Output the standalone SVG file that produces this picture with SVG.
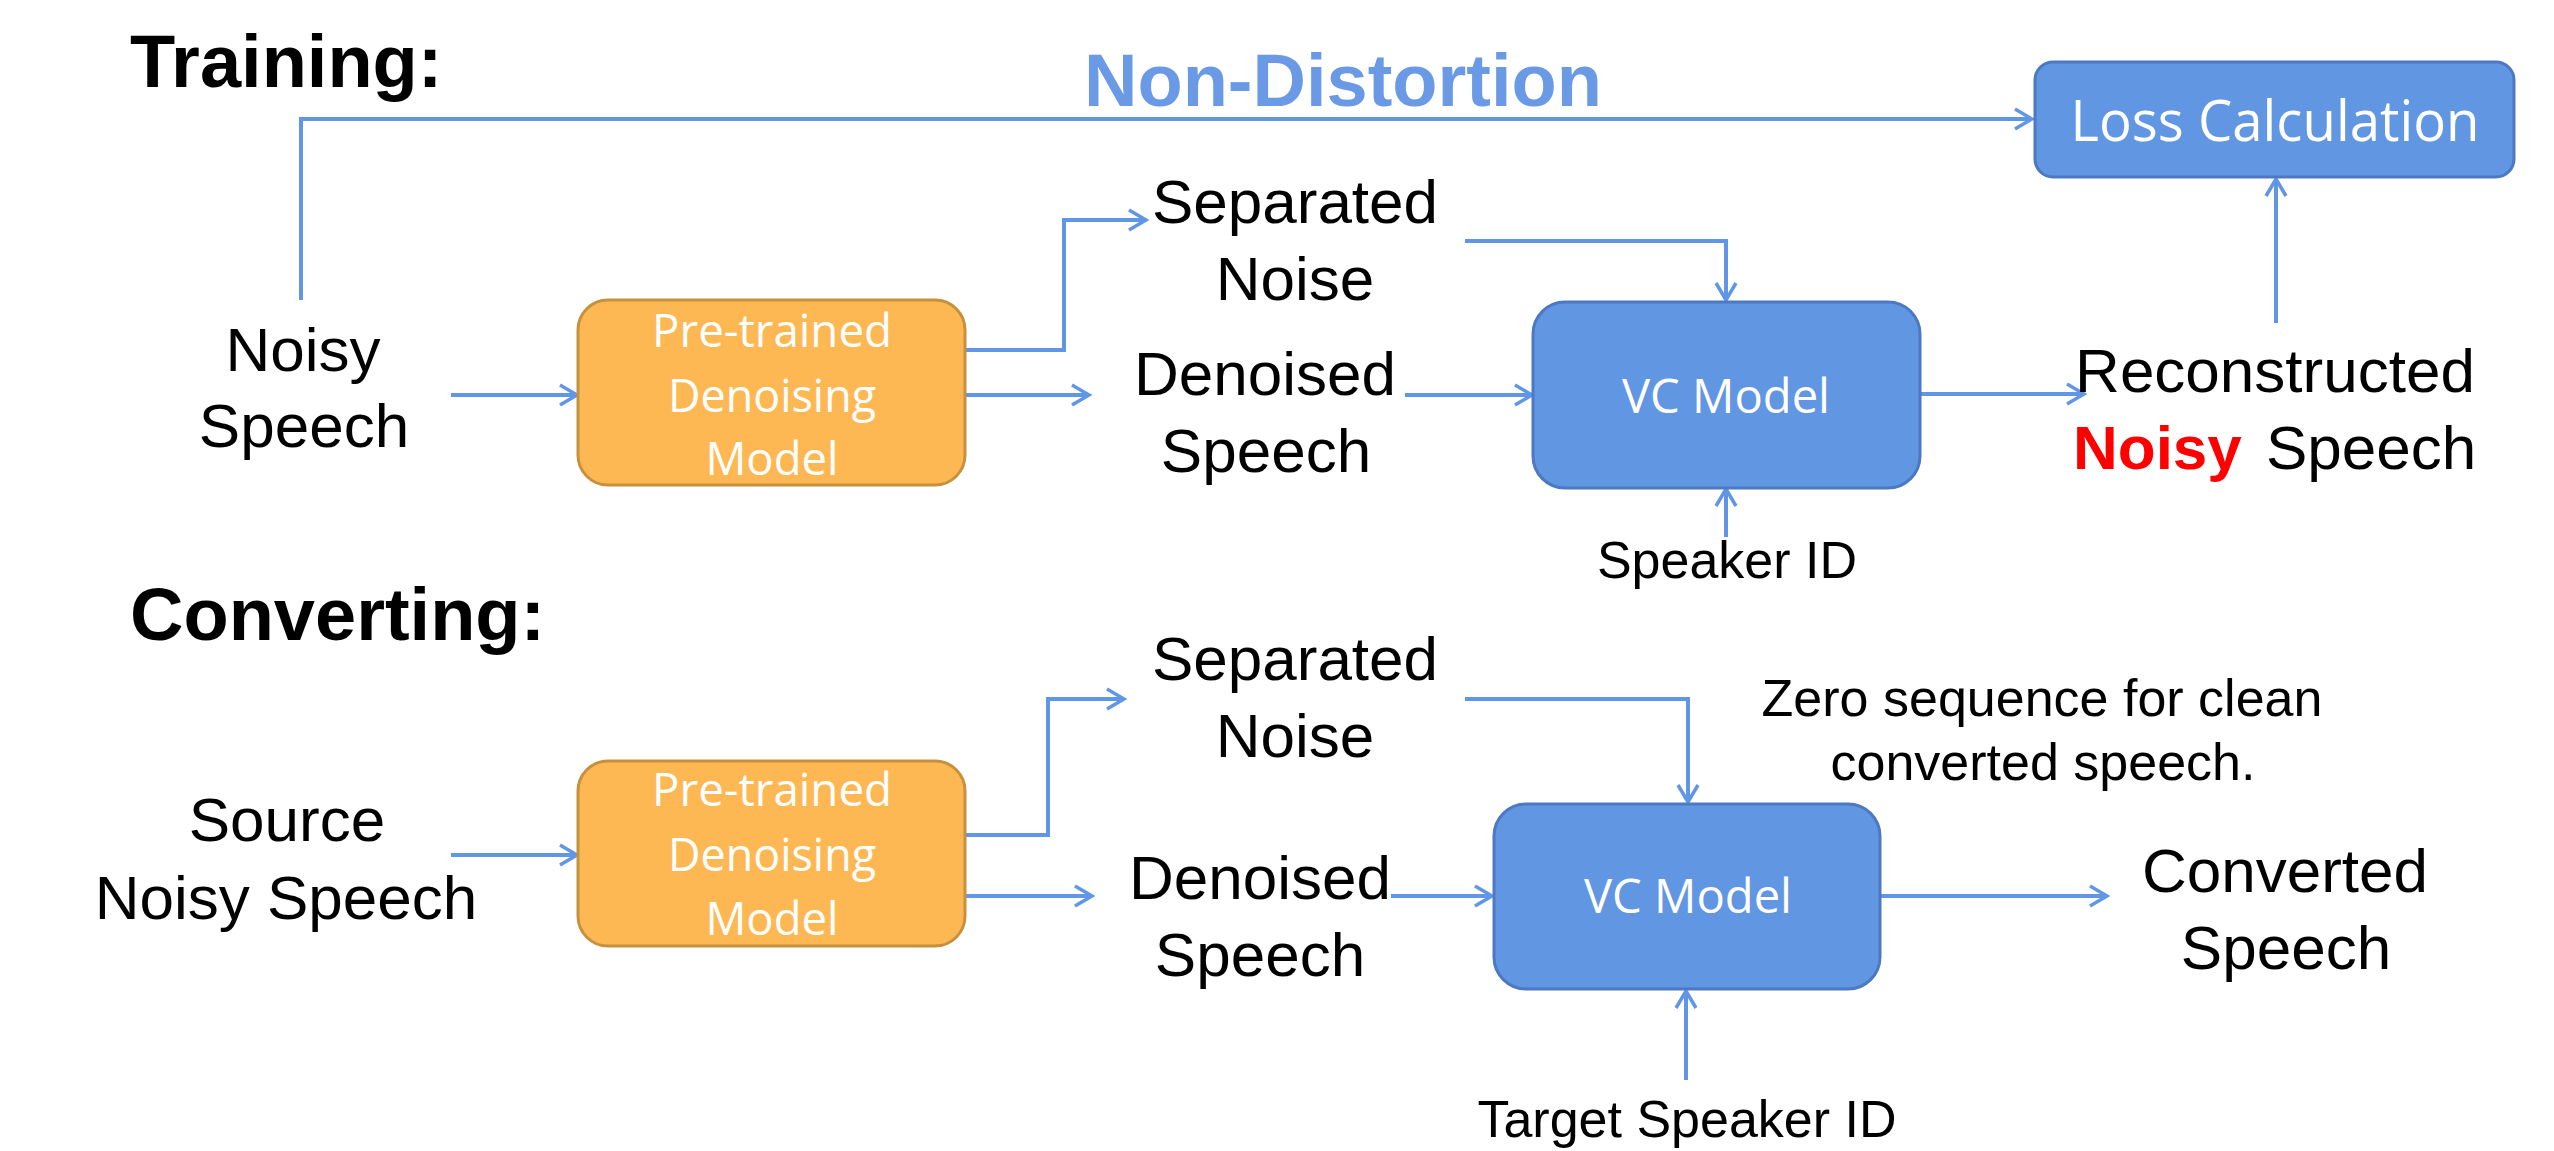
<svg xmlns="http://www.w3.org/2000/svg" width="2554" height="1151" viewBox="0 0 2554 1151">
<defs>
<style>
.h{font-family:"Liberation Sans",Arial,sans-serif;font-weight:bold;font-size:74px;fill:#000}
.t{font-family:"Liberation Sans",Arial,sans-serif;font-size:62px;fill:#000;text-anchor:middle}
.s{font-family:"Liberation Sans",Arial,sans-serif;font-size:52px;fill:#000;text-anchor:middle}
.w{font-family:"Open Sans","Noto Sans",sans-serif;fill:#fff;text-anchor:middle}
.ob{fill:#FEB853;stroke:#C6913D;stroke-width:3}
.bb{fill:#6196E3;stroke:#4C79C2;stroke-width:3}
.c{fill:none;stroke:#6196E6;stroke-width:4}
</style>
<marker id="a" viewBox="0 0 24 24" refX="21" refY="12" markerWidth="24" markerHeight="24" markerUnits="userSpaceOnUse" orient="auto">
<path d="M4,2 L21,12 L4,22" fill="none" stroke="#6196E6" stroke-width="3.5"/>
</marker>
</defs>
<rect width="2554" height="1151" fill="#fff"/>

<text class="h" x="130" y="87">Training:</text>
<text class="h" x="130" y="640">Converting:</text>
<text class="h" x="1084" y="106" style="fill:#6A9AE6">Non-Distortion</text>

<g id="connectors">
<polyline class="c" points="301,300 301,119 2032,119" marker-end="url(#a)"/>
<line class="c" x1="2276" y1="323" x2="2276" y2="179" marker-end="url(#a)"/>
<line class="c" x1="451" y1="395" x2="577" y2="395" marker-end="url(#a)"/>
<polyline class="c" points="966,350 1064,350 1064,220 1146,220" marker-end="url(#a)"/>
<polyline class="c" points="1465,241 1726,241 1726,300" marker-end="url(#a)"/>
<line class="c" x1="966" y1="395" x2="1089" y2="395" marker-end="url(#a)"/>
<line class="c" x1="1405" y1="395" x2="1532" y2="395" marker-end="url(#a)"/>
<line class="c" x1="1920" y1="394" x2="2084" y2="394" marker-end="url(#a)"/>
<line class="c" x1="1726" y1="537" x2="1726" y2="489" marker-end="url(#a)"/>

<line class="c" x1="451" y1="855" x2="577" y2="855" marker-end="url(#a)"/>
<polyline class="c" points="966,835 1048,835 1048,699 1124,699" marker-end="url(#a)"/>
<polyline class="c" points="1465,699 1688,699 1688,802" marker-end="url(#a)"/>
<line class="c" x1="966" y1="896" x2="1092" y2="896" marker-end="url(#a)"/>
<line class="c" x1="1391" y1="896" x2="1492" y2="896" marker-end="url(#a)"/>
<line class="c" x1="1880" y1="896" x2="2107" y2="896" marker-end="url(#a)"/>
<line class="c" x1="1686" y1="1080" x2="1686" y2="991" marker-end="url(#a)"/>
</g>

<g id="loss">
<rect class="bb" x="2035" y="62" width="479" height="115" rx="18"/>
<text class="w" x="2275" y="141" font-size="57" textLength="409" lengthAdjust="spacingAndGlyphs">Loss Calculation</text>
</g>

<g id="noisy-speech-train">
<text class="t" x="303" y="371">Noisy</text>
<text class="t" x="304" y="447">Speech</text>
</g>

<g id="denoise-train">
<rect class="ob" x="578" y="300" width="387" height="185" rx="30"/>
<text class="w" x="772" y="347" font-size="46" textLength="240" lengthAdjust="spacingAndGlyphs">Pre-trained</text>
<text class="w" x="772" y="412" font-size="46" textLength="208" lengthAdjust="spacingAndGlyphs">Denoising</text>
<text class="w" x="772" y="475" font-size="46" textLength="133" lengthAdjust="spacingAndGlyphs">Model</text>
</g>

<g id="sep-noise-train">
<text class="t" x="1295" y="223">Separated</text>
<text class="t" x="1295" y="300">Noise</text>
</g>

<g id="denoised-train">
<text class="t" x="1265" y="395">Denoised</text>
<text class="t" x="1266" y="472">Speech</text>
</g>

<g id="vc-train">
<rect class="bb" x="1533" y="302" width="387" height="186" rx="32"/>
<text class="w" x="1726" y="413" font-size="48" textLength="208" lengthAdjust="spacingAndGlyphs">VC Model</text>
</g>

<g id="speaker-id">
<text class="s" x="1727" y="578">Speaker ID</text>
</g>

<g id="reconstructed">
<text class="t" x="2275" y="392">Reconstructed</text>
<text x="2073" y="469" style="font-family:'Liberation Sans',Arial,sans-serif;font-size:62px;font-weight:bold;fill:#FF0000">Noisy</text>
<text x="2266" y="469" style="font-family:'Liberation Sans',Arial,sans-serif;font-size:62px;fill:#000">Speech</text>
</g>

<g id="source">
<text class="t" x="287" y="841">Source</text>
<text class="t" x="286" y="919">Noisy Speech</text>
</g>

<g id="denoise-conv">
<rect class="ob" x="578" y="761" width="387" height="185" rx="30"/>
<text class="w" x="772" y="806" font-size="46" textLength="240" lengthAdjust="spacingAndGlyphs">Pre-trained</text>
<text class="w" x="772" y="871" font-size="46" textLength="208" lengthAdjust="spacingAndGlyphs">Denoising</text>
<text class="w" x="772" y="935" font-size="46" textLength="133" lengthAdjust="spacingAndGlyphs">Model</text>
</g>

<g id="sep-noise-conv">
<text class="t" x="1295" y="680">Separated</text>
<text class="t" x="1295" y="757">Noise</text>
</g>

<g id="denoised-conv">
<text class="t" x="1260" y="899">Denoised</text>
<text class="t" x="1260" y="976">Speech</text>
</g>

<g id="zero-note">
<text class="s" x="2042" y="716">Zero sequence for clean</text>
<text class="s" x="2043" y="780">converted speech.</text>
</g>

<g id="vc-conv">
<rect class="bb" x="1494" y="804" width="386" height="185" rx="32"/>
<text class="w" x="1688" y="913" font-size="48" textLength="208" lengthAdjust="spacingAndGlyphs">VC Model</text>
</g>

<g id="converted">
<text class="t" x="2285" y="892">Converted</text>
<text class="t" x="2286" y="969">Speech</text>
</g>

<g id="target-speaker-id">
<text class="s" x="1687" y="1137">Target Speaker ID</text>
</g>
</svg>
